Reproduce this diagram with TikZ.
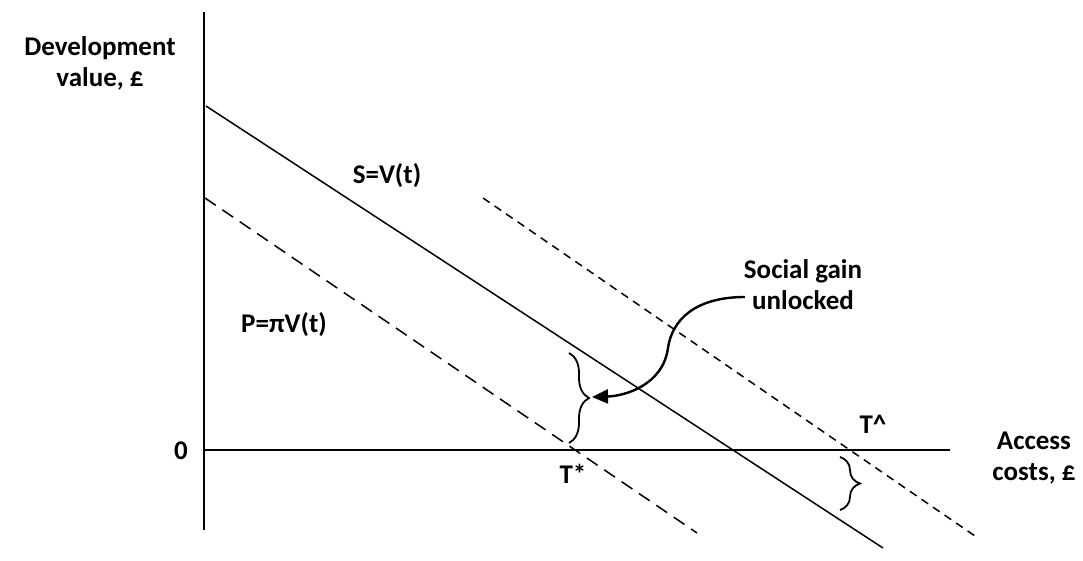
\documentclass[tikz,border=0pt]{standalone}
\usepackage{fontspec}
\setmainfont{Carlito}
\usetikzlibrary{arrows.meta,decorations.pathreplacing}
\begin{document}
\begin{tikzpicture}[x=0.5pt,y=-0.5pt,
  lbl/.style={font=\bfseries\fontsize{13.5}{15.5}\selectfont, inner sep=0pt, align=center},
  axis/.style={line width=1pt},
  sline/.style={line width=0.75pt},
  pline/.style={line width=0.75pt, dash pattern=on 6.5pt off 4pt},
  tline/.style={line width=0.75pt, dash pattern=on 4pt off 3pt},
  bracestyle/.style={line width=0.9pt, decorate, decoration={brace, amplitude=10pt}},
  gainarrow/.style={line width=1.2pt, -{Triangle[length=8pt,width=7pt]}}]
\useasboundingbox (0,0) rectangle (1083,561);
% axes
\coordinate (vtop) at (204,12);
\coordinate (vbot) at (204,530);
\coordinate (origin) at (204,450);
\coordinate (hend) at (950,450);
\draw[axis] (vtop) -- (vbot);
\draw[axis] (origin) -- (hend);
% lines
\coordinate (s1) at (206,106);
\coordinate (s2) at (883,548);
\coordinate (p1) at (205,198);
\coordinate (p2) at (697,533);
\coordinate (t1) at (483,198);
\coordinate (t2) at (975,536);
\draw[sline] (s1) -- (s2);
\draw[pline] (p1) -- (p2);
\draw[tline] (t1) -- (t2);
% braces
\coordinate (b1top) at (569,353);
\coordinate (b1bot) at (569,443);
\coordinate (b2top) at (840,457);
\coordinate (b2bot) at (840,510);
\draw[bracestyle] (b1top) -- (b1bot);
\draw[bracestyle] (b2top) -- (b2bot);
% labels
\node[lbl] (dev) at (100,63) {Development\\value, £};
\node[lbl] (slab) at (387,176) {S=V(t)};
\node[lbl] (plab) at (284,325) {P=πV(t)};
\node[lbl] (gain) at (803,285) {Social gain\\unlocked};
\node[lbl] (zero) at (181,451) {0};
\node[lbl] (tstar) at (573,474) {T*};
\node[lbl] (that) at (873,424) {T\^{}};
\node[lbl] (acc) at (1034,458) {Access\\costs, £};
% arrow
\coordinate (astart) at (745,297);
\coordinate (amid) at (668,348);
\coordinate (aend) at (592,397);
\draw[gainarrow] (astart) .. controls (695,297) and (672,320) .. (amid) .. controls (663,385) and (625,396) .. (aend);
\end{tikzpicture}
\end{document}
